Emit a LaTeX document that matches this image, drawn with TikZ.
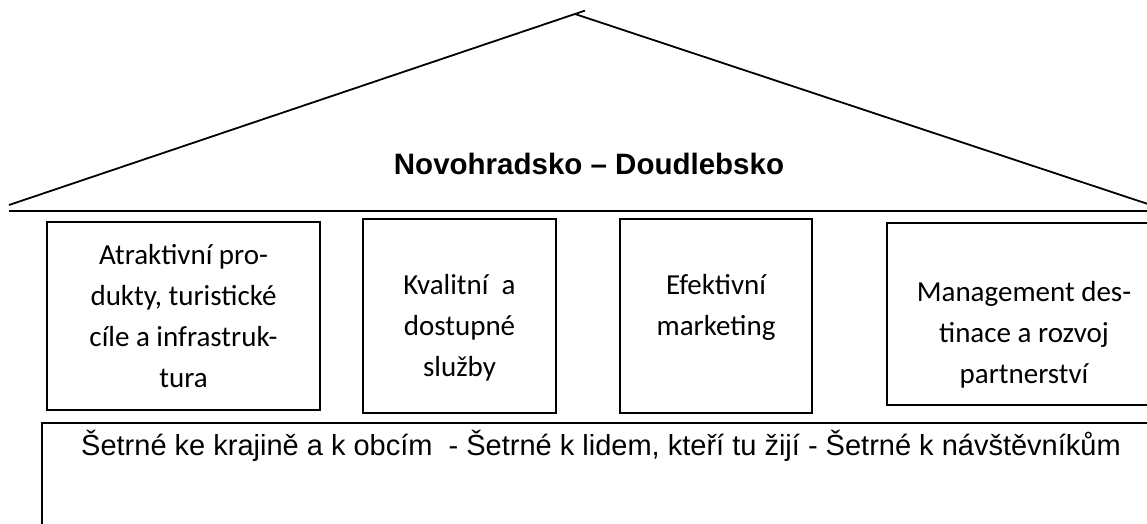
\documentclass[tikz,border=0pt]{standalone}
\usepackage{fontspec}
\setmainfont{Liberation Sans}
\newfontfamily\calibri{Carlito}
\begin{document}
\begin{tikzpicture}[x=1pt,y=-1pt,line width=1.8pt,
  pillar/.style={draw,line width=1.8pt,inner sep=0pt},
  pillartext/.style={align=center,font=\calibri\fontsize{29}{41}\selectfont}]
\useasboundingbox (0,0) rectangle (1147,523);
\clip (0,0) rectangle (1147,523);
% roof
\coordinate (eaveL) at (9,205);
\coordinate (apex) at (575,14);
\coordinate (tick) at (585,10.6);
\coordinate (eaveR) at (1160,208);
\coordinate (beamL) at (9,211);
\coordinate (beamR) at (1160,211);
\draw (eaveL) -- (tick);
\draw (apex) -- (eaveR);
\draw (beamL) -- (beamR);
\node[font=\bfseries\fontsize{29.5}{35}\selectfont,anchor=base] (title) at (589,174) {Novohradsko – Doudlebsko};
% pillars
\node[pillar,minimum width=273pt,minimum height=188pt] (P1) at (183.5,316) {};
\node[pillar,minimum width=193pt,minimum height=194pt] (P2) at (459.5,316) {};
\node[pillar,minimum width=192pt,minimum height=194pt] (P3) at (716,316) {};
\node[pillar,minimum width=274pt,minimum height=182pt] (P4) at (1024,314) {};
\node[pillartext] (T1) at (P1.center) {Atraktivní pro-\\dukty, turistické\\cíle a infrastruk-\\tura};
\node[pillartext] (T2) at ([yshift=-12pt]P2.center) {Kvalitní~ a\\dostupné\\služby};
\node[pillartext] (T3) at ([yshift=9pt]P3.center) {Efektivní\\marketing};
\node[pillartext] (T4) at ([yshift=-21pt]P4.center) {Management des-\\tinace a rozvoj\\partnerství};
% base
\node[pillar,minimum width=1118pt,minimum height=137pt] (base) at (601,491.5) {};
\node[font=\fontsize{29}{35}\selectfont,anchor=base] (basetext) at (601,455) {Šetrné ke krajině a k obcím~ - Šetrné k lidem, kteří tu žijí - Šetrné k návštěvníkům};
\end{tikzpicture}
\end{document}
